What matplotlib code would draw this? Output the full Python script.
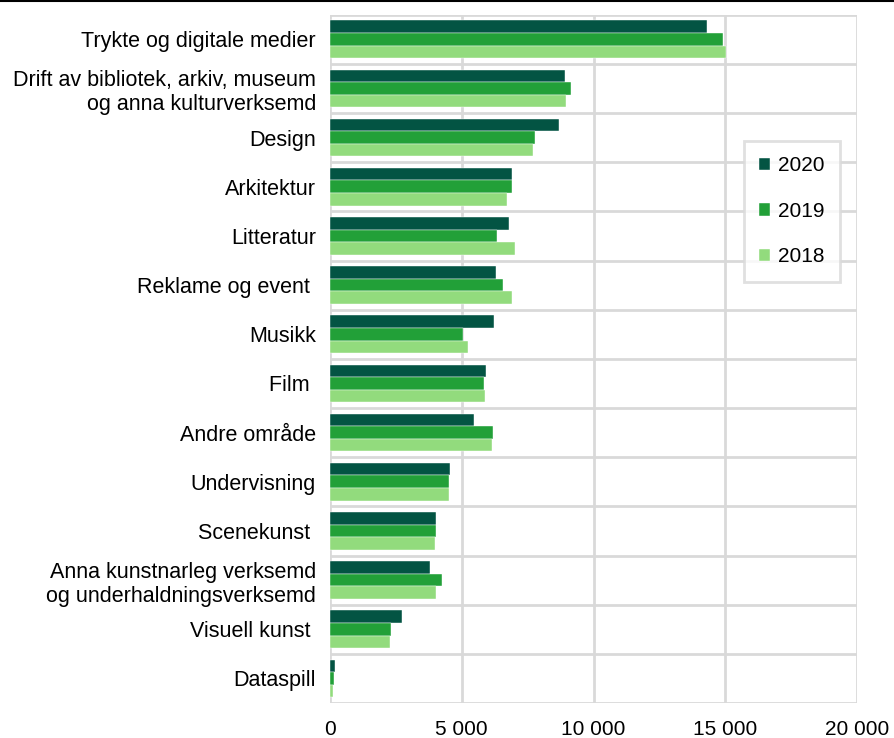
import matplotlib
matplotlib.use("Agg")
import matplotlib.pyplot as plt
from matplotlib.lines import Line2D
from matplotlib.ticker import FuncFormatter
import numpy as np

plt.rcParams['font.family'] = ['Liberation Sans', 'DejaVu Sans']

categories = [
    "Trykte og digitale medier",
    "Drift av bibliotek, arkiv, museum\nog anna kulturverksemd",
    "Design",
    "Arkitektur",
    "Litteratur",
    "Reklame og event ",
    "Musikk",
    "Film ",
    "Andre område",
    "Undervisning",
    "Scenekunst ",
    "Anna kunstnarleg verksemd\nog underhaldningsverksemd",
    "Visuell kunst ",
    "Dataspill",
]
v2020 = [14300, 8930, 8680, 6900, 6800, 6300, 6220, 5930, 5470, 4570, 4020, 3780, 2750, 190]
v2019 = [14930, 9150, 7770, 6900, 6320, 6580, 5060, 5860, 6180, 4520, 4040, 4260, 2320, 160]
v2018 = [15020, 8960, 7720, 6720, 7020, 6920, 5220, 5880, 6160, 4520, 3990, 4020, 2280, 130]
series = [("2020", v2020, "#035443"), ("2019", v2019, "#22A038"), ("2018", v2018, "#92DB7D")]
xticks = [0, 5000, 10000, 15000, 20000]

fig = plt.figure(figsize=(8.95, 7.38), dpi=100)
ax = fig.add_axes([330/895, 1-703/738, (857-330)/895, (703-14.7)/738])

n = len(categories)
y = np.arange(n)
h = 0.256
for i, (lab, vals, col) in enumerate(series):
    ax.barh(y + (i - 1) * h, vals, height=h, color=col, label=lab,
            edgecolor='white', linewidth=0.3, zorder=3)

ax.set_ylim(n - 0.5, -0.5)
ax.set_xlim(0, 20000)
ax.set_xticks(xticks)
ax.xaxis.set_major_formatter(FuncFormatter(lambda v, p: f"{int(v):,}".replace(",", " ")))
ax.set_yticks(y)
ax.set_yticklabels(categories, fontsize=15.5, linespacing=1.2)
ax.set_yticks(np.arange(n + 1) - 0.5, minor=True)
ax.tick_params(axis='y', which='major', length=0, pad=10)
ax.tick_params(axis='y', which='minor', length=0)
ax.tick_params(axis='x', length=0, pad=12.5, labelsize=15)
for lbl in ax.get_yticklabels():
    lbl.set_horizontalalignment('right')
    lbl.set_multialignment('right')

ax.grid(axis='x', which='major', color='#d9d9d9', linewidth=2, zorder=0)
ax.grid(axis='y', which='minor', color='#d9d9d9', linewidth=2, zorder=0)
for s in ax.spines.values():
    s.set_visible(False)

leg = ax.legend(loc='upper left', bbox_to_anchor=((744-330)/527, 1-(141-14.7)/688.3),
                fontsize=15, frameon=True, fancybox=False, edgecolor='#d9d9d9',
                handlelength=0.53, handleheight=0.53, handletextpad=0.35,
                labelspacing=1.27, borderpad=0.74, borderaxespad=0)
leg.get_frame().set_linewidth(2)
leg.set_zorder(5)

fig.add_artist(Line2D([0, 1], [1 - 1/738, 1 - 1/738], color='black', linewidth=1.5,
                      transform=fig.transFigure))

fig.savefig("out.png", dpi=100)
